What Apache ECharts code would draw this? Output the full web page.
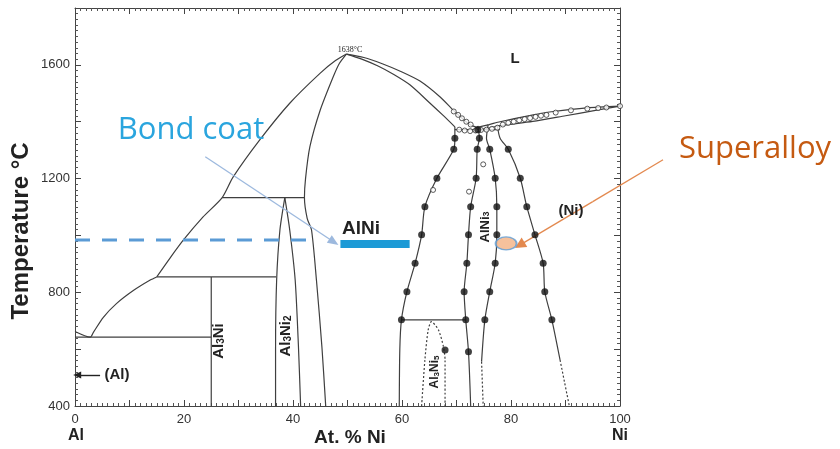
<!DOCTYPE html>
<html>
<head>
<meta charset="utf-8">
<script src="https://cdn.jsdelivr.net/npm/echarts@6/dist/echarts.min.js"></script>
<style>
html, body { margin: 0; padding: 0; background: #fff; }
#chart { width: 840px; height: 449px; }
</style>
</head>
<body>
<div id="chart"></div>
<script>
// Axis ticks (at.% Ni, temperature in °C)
const xTickLabels = [0, 20, 40, 60, 80, 100];
const yTickLabels = [400, 800, 1200, 1600];

// Phase boundaries, [at.% Ni, T °C]
const alLiquidus = [[0, 662], [2.8, 642], [3.4, 660], [5.2, 712], [7.6, 760], [10.7, 806], [13.8, 843], [15, 854]];
const midLiquidus = [[15, 854], [17.5, 922], [19.9, 984], [23.5, 1065], [27, 1133], [29, 1205], [33.9, 1336], [39.4, 1465], [45, 1571], [47.8, 1615], [49.8, 1638]];
const alNiLiquidusR = [[49.8, 1638], [53, 1626], [56.5, 1603], [60, 1575], [63.3, 1543], [67, 1487], [69.7, 1435], [72.5, 1389], [73.8, 1380]];
const alNiSolidusR = [[49.8, 1638], [52.5, 1621], [55.6, 1596], [58.5, 1566], [61.5, 1529], [65.1, 1466], [67.5, 1423], [69.7, 1382]];
const alNiLeft = [[49.8, 1638], [48.5, 1605], [47.4, 1559], [45, 1441], [43.1, 1312], [42.3, 1200], [42.1, 1133], [42.6, 1060], [43.4, 1019], [44.3, 843], [45.3, 609], [46, 400]];
const alNiRight = [[69.7, 1382], [69.7, 1342], [69.5, 1303], [66.4, 1201], [64.2, 1101], [63.6, 1002], [62.4, 902], [60.9, 802], [59.9, 703], [59.6, 600], [59.5, 400]];
const al3Ni2Left = [[38.5, 1133], [37.6, 1019], [37.0, 843], [36.8, 600], [36.8, 400]];
const al3Ni2Right = [[38.5, 1133], [39.4, 1019], [40.4, 843], [41.0, 609], [41.4, 400]];
const al3NiLine = [[25, 854], [25, 400]];
const peritectic1133 = [[27, 1133], [42.1, 1133]];
const peritectic854 = [[15, 854], [36.9, 854]];
const eutectic642 = [[0, 642], [25, 642]];
const peritectoid700 = [[59.9, 703], [71.7, 703]];
const al3Ni5Dome = [[63.6, 400], [64.2, 562], [64.8, 667], [65.4, 697], [66.7, 667], [67.6, 609], [67.9, 562], [67.9, 400]];
const alNi3Left = [[73.9, 1385], [74.2, 1342], [73.8, 1303], [73.6, 1201], [72.6, 1101], [72.2, 1002], [71.9, 902], [71.4, 802], [71.7, 703], [72.2, 591], [72.6, 400]];
const alNi3Right = [[75.8, 1390], [75.5, 1342], [76.1, 1303], [77.1, 1201], [77.4, 1101], [77.4, 1002], [77.1, 902], [76.1, 802], [75.2, 703], [74.6, 556]];
const alNi3RightLow = [[74.6, 556], [74.9, 400]];
const niSolvus = [[77.5, 1385], [78.0, 1342], [79.5, 1303], [81.7, 1201], [82.9, 1101], [84.4, 1002], [85.9, 902], [86.2, 802], [87.5, 703], [89.0, 562]];
const niSolvusLow = [[89.0, 562], [90.7, 400]];
const niLiquidus = [[73.8, 1380], [76, 1390], [78, 1400], [84.1, 1424], [87.8, 1436], [93.9, 1449], [100, 1455]];
const niSolidus = [[74, 1372], [76, 1378], [78, 1386], [84, 1401], [90, 1421], [95, 1438], [100, 1455]];
const eutecticBand = [[69.7, 1372], [78, 1372]];

// Measured points
const solidDots = [
  [69.7, 1342], [69.5, 1303], [66.4, 1201], [64.2, 1101], [63.6, 1002], [62.4, 902], [60.9, 802], [59.9, 703],
  [74.2, 1342], [73.8, 1303], [73.6, 1201], [72.6, 1101], [72.2, 1002], [71.9, 902], [71.4, 802], [71.7, 703], [72.2, 591],
  [76.1, 1303], [77.1, 1201], [77.4, 1101], [77.4, 1002], [77.1, 902], [76.1, 802], [75.2, 703],
  [79.5, 1303], [81.7, 1201], [82.9, 1101], [84.4, 1002], [85.9, 902], [86.2, 802], [87.5, 703],
  [67.9, 597], [73.9, 1372]
];
const openDots = [
  [65.7, 1160], [72.3, 1154], [74.9, 1250],
  [69.5, 1436], [70.3, 1424], [71.0, 1412], [71.8, 1400], [72.6, 1390],
  [70.5, 1372], [71.5, 1369], [72.5, 1367], [73.5, 1369], [74.5, 1371], [75.5, 1372], [76.5, 1375], [77.5, 1379],
  [78.5, 1390], [79.5, 1396], [80.5, 1400], [81.5, 1405], [82.5, 1409], [83.5, 1413], [84.5, 1417], [85.5, 1421],
  [86.5, 1424], [88.2, 1432], [91, 1440], [94, 1446], [96, 1448], [97.5, 1450], [100, 1455]
];

// Coating annotations
const bondCoatTemp = [[0, 984], [44, 984]];
const bondCoatPointer = [[23.9, 1277], [47.5, 977]];
const alNiBar = [[48.7, 970], [61.4, 970]];
const superalloySpot = [[79.1, 972]];
const superalloyLeader = [[107.9, 1266], [95, 1119]];
const superalloyPointer = [[95, 1119], [81.6, 966]];
const alPointer = [[4.6, 509], [0.4, 509]];

const LINE = '#3f3f3f';
const BASE_FONT = 'Liberation Sans, Arial, sans-serif';

function boundary(data, opts) {
  opts = opts || {};
  return {
    type: 'line', data: data, symbol: 'none', smooth: opts.smooth === undefined ? 0.25 : opts.smooth,
    lineStyle: { color: LINE, width: opts.width || 1.2, type: opts.dash || 'solid' },
    z: 3, silent: true, animation: false
  };
}

function pointer(pair, color, headColor, width, head, z) {
  return {
    type: 'line', data: [], silent: true, animation: false, z: z || 6,
    markLine: {
      silent: true, animation: false, symbol: ['none', 'triangle'], symbolSize: head,
      label: { show: false },
      lineStyle: { color: color, width: width, type: 'solid' },
      itemStyle: { color: headColor },
      data: [[{ coord: pair[0], symbol: 'none' }, { coord: pair[1], itemStyle: { color: headColor } }]]
    }
  };
}

function axisPair(pos, isX) {
  return {
    type: 'value', position: pos,
    min: isX ? 0 : 400, max: isX ? 100 : 1800, interval: isX ? 10 : 200,
    axisLine: { show: true, onZero: false, lineStyle: { color: '#444', width: 1 } },
    axisTick: { show: true, inside: true, length: 6, lineStyle: { color: '#444' } },
    minorTick: { show: true, splitNumber: 10, length: 3, lineStyle: { color: '#555' } },
    splitLine: { show: false },
    minorSplitLine: { show: false },
    axisLabel: { show: false }
  };
}

const xBottom = axisPair('bottom', true);
xBottom.axisLabel = {
  show: true, margin: 7, color: '#333', fontSize: 13, fontFamily: BASE_FONT,
  formatter: function (v) { return xTickLabels.indexOf(v) >= 0 ? String(v) : ''; }
};
const xTop = axisPair('top', true);
const yLeft = axisPair('left', false);
yLeft.axisLabel = {
  show: true, margin: 5, color: '#333', fontSize: 13, fontFamily: BASE_FONT,
  formatter: function (v) { return yTickLabels.indexOf(v) >= 0 ? String(v) : ''; }
};
const yRight = axisPair('right', false);

function sub(size) {
  return { fontSize: size, fontWeight: 'bold', fontFamily: BASE_FONT, verticalAlign: 'bottom', fill: '#222' };
}

function label(x, y, text, size, opts) {
  opts = opts || {};
  const style = {
    text: text, fontSize: size, fontWeight: opts.weight || 'bold', fontFamily: opts.family || BASE_FONT,
    fill: opts.color || '#222', align: 'center', verticalAlign: 'middle'
  };
  if (opts.rich) style.rich = opts.rich;
  return { type: 'text', x: x, y: y, rotation: opts.rot || 0, style: style, z: 20, silent: true };
}

const series = [
  boundary(alLiquidus),
  boundary(midLiquidus),
  boundary(alNiLiquidusR),
  boundary(alNiSolidusR),
  boundary(alNiLeft),
  boundary(alNiRight),
  boundary(al3Ni2Left),
  boundary(al3Ni2Right),
  boundary(al3NiLine, { smooth: false }),
  boundary(peritectic1133, { smooth: false }),
  boundary(peritectic854, { smooth: false }),
  boundary(eutectic642, { smooth: false }),
  boundary(peritectoid700, { smooth: false }),
  boundary(al3Ni5Dome, { dash: [2, 2] }),
  boundary(alNi3Left),
  boundary(alNi3Right),
  boundary(alNi3RightLow, { smooth: false, dash: [2, 2] }),
  boundary(niSolvus),
  boundary(niSolvusLow, { smooth: false, dash: [2, 2] }),
  boundary(niLiquidus),
  boundary(niSolidus),
  boundary(eutecticBand, { smooth: false }),
  {
    type: 'scatter', data: openDots, symbol: 'circle', symbolSize: 5, silent: true, animation: false, z: 4,
    itemStyle: { color: '#fff', borderColor: '#333', borderWidth: 1 }
  },
  {
    type: 'scatter', data: solidDots, symbol: 'circle', symbolSize: 7, silent: true, animation: false, z: 5,
    itemStyle: { color: '#111' }
  },
  {
    type: 'line', data: bondCoatTemp, symbol: 'none', silent: true, animation: false, z: 6,
    lineStyle: { color: '#5B9BD5', width: 3, type: [15, 12] }
  },
  pointer(bondCoatPointer, '#9DB9DE', '#5B9BD5', 1.3, [9, 11], 6),
  {
    type: 'line', data: alNiBar, symbol: 'none', silent: true, animation: false, z: 7,
    lineStyle: { color: '#1C9AD6', width: 8, cap: 'butt' }
  },
  {
    type: 'scatter', data: superalloySpot, symbol: 'circle', symbolSize: [21, 13], silent: true, animation: false, z: 7,
    itemStyle: { color: '#F4B183', borderColor: '#5B9BD5', borderWidth: 1.5 }
  },
  pointer(superalloyPointer, '#E3894F', '#C55A11', 1.3, [11, 11], 7),
  pointer(alPointer, '#222', '#222', 1.4, [7, 8], 7)
];

const chart = echarts.init(document.getElementById('chart'), null, { renderer: 'canvas' });
chart.setOption({
  animation: false,
  backgroundColor: '#fff',
  grid: { left: 75, right: 220, top: 8, bottom: 43, containLabel: false },
  xAxis: [xBottom, xTop],
  yAxis: [yLeft, yRight],
  series: series,
  graphic: [
    label(21, 231, 'Temperature °C', 24, { rot: Math.PI / 2 }),
    label(350, 438, 'At. % Ni', 19),
    label(76, 436, 'Al', 16),
    label(620, 436, 'Ni', 16),
    label(191, 130, 'Bond coat', 31, { weight: 'normal', family: 'Open Sans, sans-serif', color: '#2AA5DE' }),
    label(755, 149, 'Superalloy', 31, { weight: 'normal', family: 'Open Sans, sans-serif', color: '#C55A11' }),
    label(361, 229, 'AlNi', 19),
    label(515, 59, 'L', 15),
    label(571, 211, '(Ni)', 15),
    label(117, 375, '(Al)', 15),
    label(350, 50, '1638°C', 8, { weight: 'normal', family: 'Liberation Serif, serif' }),
    label(219, 341, 'Al{s|3}Ni', 15, { rot: Math.PI / 2, rich: { s: sub(10) } }),
    label(286, 336, 'Al{s|3}Ni{s|2}', 15, { rot: Math.PI / 2, rich: { s: sub(10) } }),
    label(485, 227, 'AlNi{s|3}', 13, { rot: Math.PI / 2, rich: { s: sub(9) } }),
    label(435, 372, 'Al{s|3}Ni{s|5}', 12, { rot: Math.PI / 2, rich: { s: sub(8) } })
  ]
});

// The Superalloy leader starts outside the plot area, so it is drawn as a
// free graphic line placed through the chart's own coordinate conversion.
const leadA = chart.convertToPixel({ gridIndex: 0 }, superalloyLeader[0]);
const leadB = chart.convertToPixel({ gridIndex: 0 }, superalloyLeader[1]);
chart.setOption({
  graphic: [{
    type: 'line', id: 'superalloy-leader', silent: true, z: 7,
    shape: { x1: leadA[0], y1: leadA[1], x2: leadB[0], y2: leadB[1] },
    style: { stroke: '#E3894F', lineWidth: 1.3 }
  }]
});
</script>
</body>
</html>
